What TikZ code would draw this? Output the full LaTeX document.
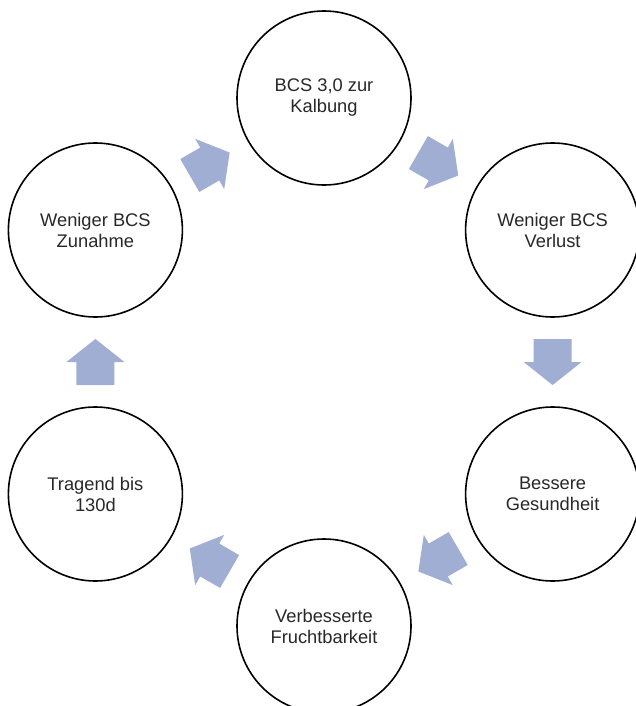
\documentclass[tikz,border=0pt]{standalone}
\usepackage{fontspec}
\setmainfont{Liberation Sans}
\usetikzlibrary{calc}
\definecolor{arrowblue}{RGB}{160,174,212}
\definecolor{txt}{RGB}{40,40,40}
\tikzset{
  cyclenode/.style={circle, draw=black, line width=1.6pt, fill=white,
    minimum size=174pt, inner sep=0pt, align=center, text=txt,
    font=\fontsize{18.3}{21}\selectfont},
  blockarrow/.pic={
    \fill[arrowblue] (-23,-19) -- (0,-19) -- (0,-29) -- (23,0) -- (0,29) -- (0,19) -- (-23,19) -- cycle;
  }
}
\newcommand{\cyclearrow}[2]{%
  \path let \p1=($(#2)-(#1)$), \n1={atan2(\y1,\x1)} in
    pic[rotate=\n1] at ($(#1)!0.5!(#2)$) {blockarrow};%
}
\begin{document}
\begin{tikzpicture}[x=1pt,y=-1pt]
\useasboundingbox (0,0) rectangle (635,706);
\node[cyclenode] (c1) at (324,98) {BCS 3,0 zur\\Kalbung};
\node[cyclenode] (c2) at (552.6,230) {Weniger BCS\\Verlust};
\node[cyclenode] (c3) at (552.6,494) {Bessere\\Gesundheit};
\node[cyclenode] (c4) at (324,626) {Verbesserte\\Fruchtbarkeit};
\node[cyclenode] (c5) at (95.4,494) {Tragend bis\\130d};
\node[cyclenode] (c6) at (95.4,230) {Weniger BCS\\Zunahme};
\cyclearrow{c1}{c2}
\cyclearrow{c2}{c3}
\cyclearrow{c3}{c4}
\cyclearrow{c4}{c5}
\cyclearrow{c5}{c6}
\cyclearrow{c6}{c1}
\end{tikzpicture}
\end{document}
